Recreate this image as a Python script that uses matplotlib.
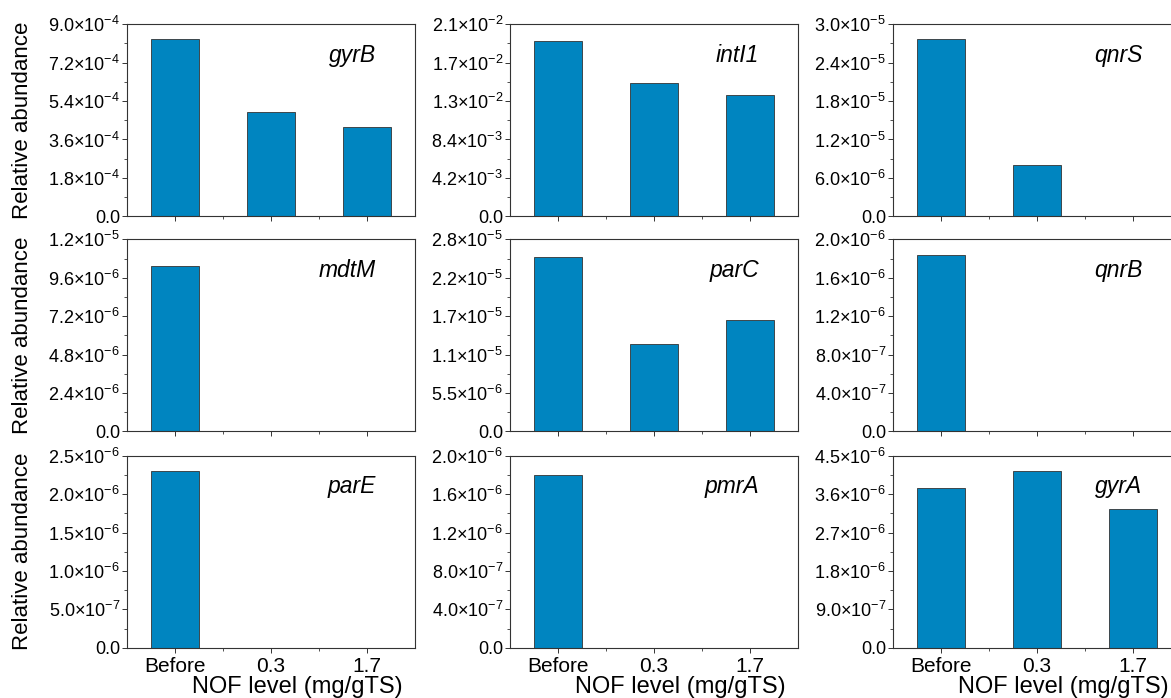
import numpy as np
import matplotlib
matplotlib.use('Agg')
import matplotlib.pyplot as plt
from matplotlib.ticker import FixedLocator

plt.rcParams['font.family'] = ['Liberation Sans', 'DejaVu Sans']
plt.rcParams['mathtext.fontset'] = 'custom'
plt.rcParams['mathtext.rm'] = 'Liberation Sans'
plt.rcParams['mathtext.it'] = 'Liberation Sans:italic'

# categories on the x axis
niveles = ['Before', '0.3', '1.7']

# genes, row by row
genes = ['gyrB', 'intI1', 'qnrS',
         'mdtM', 'parC', 'qnrB',
         'parE', 'pmrA', 'gyrA']

# relative abundance
gyrB = [8.30e-4, 4.91e-4, 4.19e-4]
intI1 = [1.917e-2, 1.458e-2, 1.323e-2]
qnrS = [2.766e-5, 8.0e-6, 0.0]
mdtM = [1.035e-5, 0.0, 0.0]
parC = [2.493e-5, 1.249e-5, 1.597e-5]
qnrB = [1.837e-6, 0.0, 0.0]
parE = [2.30e-6, 0.0, 0.0]
pmrA = [1.80e-6, 0.0, 0.0]
gyrA = [3.74e-6, 4.15e-6, 3.25e-6]
valores = [gyrB, intI1, qnrS, mdtM, parC, qnrB, parE, pmrA, gyrA]

# y axis upper limits
ymax = [9.0e-4, 2.1e-2, 3.0e-5,
        1.2e-5, 2.75e-5, 2.0e-6,
        2.5e-6, 2.0e-6, 4.5e-6]

# y tick labels (mantissa, exponent)
etiquetas_y = [
    [('9.0', -4), ('7.2', -4), ('5.4', -4), ('3.6', -4), ('1.8', -4)],
    [('2.1', -2), ('1.7', -2), ('1.3', -2), ('8.4', -3), ('4.2', -3)],
    [('3.0', -5), ('2.4', -5), ('1.8', -5), ('1.2', -5), ('6.0', -6)],
    [('1.2', -5), ('9.6', -6), ('7.2', -6), ('4.8', -6), ('2.4', -6)],
    [('2.8', -5), ('2.2', -5), ('1.7', -5), ('1.1', -5), ('5.5', -6)],
    [('2.0', -6), ('1.6', -6), ('1.2', -6), ('8.0', -7), ('4.0', -7)],
    [('2.5', -6), ('2.0', -6), ('1.5', -6), ('1.0', -6), ('5.0', -7)],
    [('2.0', -6), ('1.6', -6), ('1.2', -6), ('8.0', -7), ('4.0', -7)],
    [('4.5', -6), ('3.6', -6), ('2.7', -6), ('1.8', -6), ('9.0', -7)],
]

color_barra = '#0085c0'
color_linea = '#333333'

W, H = 1171, 698
fig = plt.figure(figsize=(W / 100, H / 100), dpi=100)

izq = [127, 510, 893]
arriba = [24.3, 239.3, 455.7]
ancho, alto = 288, 192

x = np.arange(len(niveles))

for i in range(9):
    fila, col = divmod(i, 3)
    ax = fig.add_axes([izq[col] / W, (H - arriba[fila] - alto) / H, ancho / W, alto / H])
    ax.bar(x, valores[i], width=0.5, color=color_barra, edgecolor=color_linea, linewidth=0.6)
    ax.set_xlim(-0.5, 2.5)
    ax.set_ylim(0, ymax[i])

    ticks = np.linspace(0, ymax[i], 6)
    ax.yaxis.set_major_locator(FixedLocator(ticks))
    ax.yaxis.set_minor_locator(FixedLocator((ticks[:-1] + ticks[1:]) / 2))
    labs = ['0.0'] + [r'$\mathregular{%s{\times}10^{%d}}$' % (m, e) for m, e in reversed(etiquetas_y[i])]
    ax.set_yticklabels(labs, fontsize=13)

    ax.xaxis.set_major_locator(FixedLocator(x))
    ax.xaxis.set_minor_locator(FixedLocator([0.5, 1.5]))
    if fila == 2:
        ax.set_xticklabels(niveles, fontsize=15)
        ax.set_xlabel('NOF level (mg/gTS)', fontsize=17)
        ax.xaxis.set_label_coords(0.59, -0.145)
    else:
        ax.set_xticklabels([])

    if col == 0:
        ax.set_ylabel('Relative abundance', fontsize=16)
        ax.yaxis.set_label_coords(-0.325, 0.5)

    ax.tick_params(which='major', direction='out', length=3.5, width=0.7,
                   color=color_linea, pad=1.5)
    ax.tick_params(axis='x', which='major', pad=3)
    ax.tick_params(which='minor', direction='out', length=2, width=0.6, color=color_linea)
    for s in ax.spines.values():
        s.set_color(color_linea)
        s.set_linewidth(0.8)

    ax.text(0.865, 0.84, genes[i], transform=ax.transAxes, ha='right', va='center',
            fontsize=16.5, style='italic')

fig.savefig('out.png', dpi=100)
